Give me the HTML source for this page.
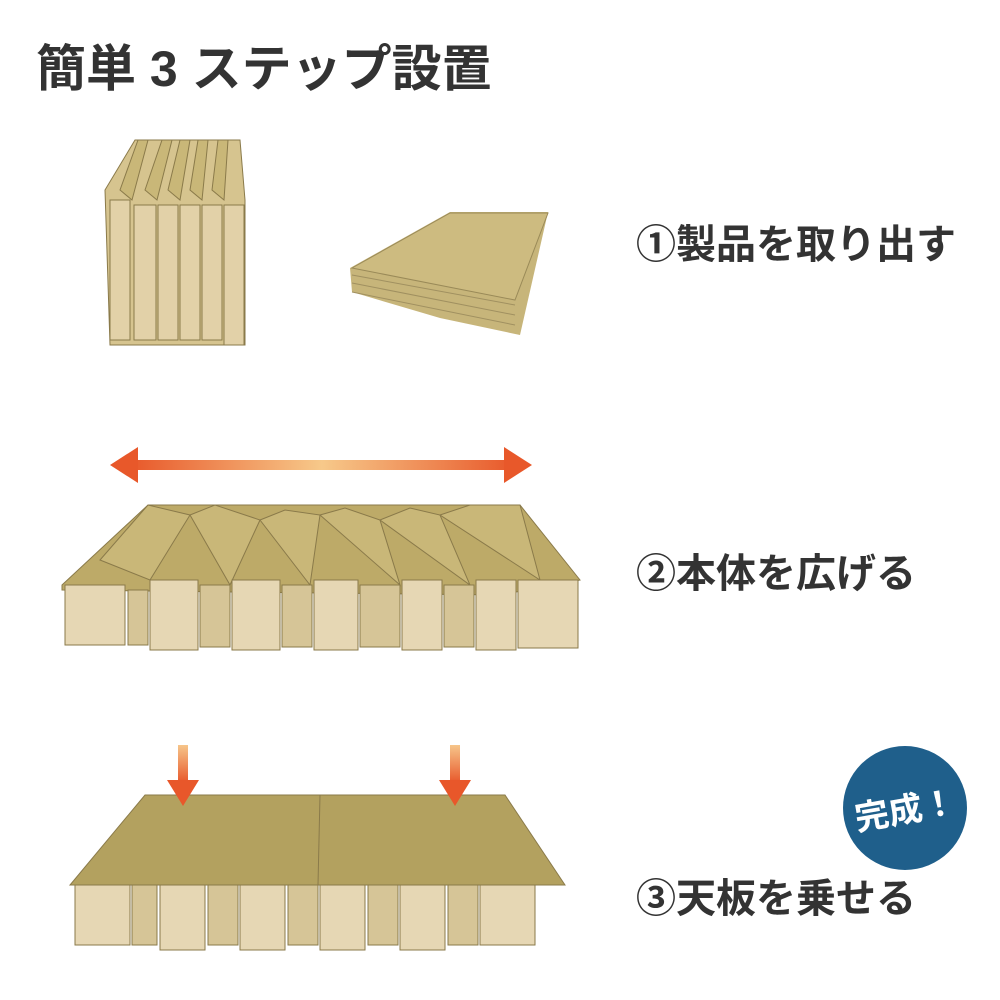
<!DOCTYPE html>
<html><head><meta charset="utf-8"><style>
html,body{margin:0;padding:0;background:#fff;width:1000px;height:1000px;overflow:hidden}
svg{display:block}
text{font-family:"Liberation Sans","Noto Sans CJK JP",sans-serif;font-weight:bold}
</style></head><body>
<svg width="1000" height="1000" viewBox="0 0 1000 1000">
<defs>
<linearGradient id="ag" x1="0" x2="1"><stop offset="0" stop-color="#e8582a"/><stop offset="0.5" stop-color="#f7c98a"/><stop offset="1" stop-color="#e8582a"/></linearGradient>
<linearGradient id="dg" x1="0" y1="0" x2="0" y2="1"><stop offset="0" stop-color="#f6c58a"/><stop offset="1" stop-color="#e8572a"/></linearGradient>
</defs>
<text x="36" y="86" font-size="50" fill="#333">簡単 3 ステップ設置</text>

<!-- step1 vertical pleats -->
<g stroke="#8a7a4a" stroke-width="1">
<polygon points="105,190 135,140 240,140 245,200 245,345 110,345" fill="#d6c48f"/>
<g fill="#c9b778">
<polygon points="120,190 138,140 148,140 132,200"/>
<polygon points="145,190 162,140 172,140 157,200"/>
<polygon points="168,190 180,140 190,140 180,200"/>
<polygon points="190,190 198,140 208,140 202,200"/>
<polygon points="212,190 218,140 228,140 224,200"/>
</g>
<g fill="#e2d1a8">
<rect x="110" y="200" width="20" height="140"/>
<rect x="134" y="205" width="22" height="135"/>
<rect x="158" y="205" width="20" height="135"/>
<rect x="180" y="205" width="20" height="135"/>
<rect x="202" y="205" width="20" height="135"/>
<rect x="224" y="205" width="20" height="140"/>
</g>
</g>
<!-- flat folded -->
<polygon points="350,268 450,212 548,212 520,335 440,318 352,292" fill="#c7b57a"/>
<polygon points="352,268 450,213 548,213 515,300" fill="#cdbb80" stroke="#9a8a58"/>
<path d="M352,275 L515,305 M352,283 L515,315 M352,292 L515,325" stroke="#a09060" fill="none"/>
<text x="636" y="258" font-size="40" fill="#333">①製品を取り出す</text>

<!-- step2 arrow -->
<rect x="130" y="460" width="384" height="10" fill="url(#ag)"/>
<polygon points="110,465 138,447 138,483" fill="#e8582a"/>
<polygon points="532,465 504,447 504,483" fill="#e8582a"/>
<!-- zigzag -->
<g stroke="#8a7a4a" stroke-width="1">
<polygon points="62,585 148,505 520,505 580,580 500,595 62,590" fill="#bdaa68"/>
<g fill="#c9b778">
<polygon points="100,560 148,505 190,515 150,580"/>
<polygon points="190,515 215,505 260,520 230,585"/>
<polygon points="260,520 285,510 320,515 310,585"/>
<polygon points="320,515 345,508 380,520 400,585"/>
<polygon points="380,520 410,508 440,515 470,585"/>
<polygon points="440,515 470,505 520,505 540,580"/>
</g>
<g fill="#e6d7b4">
<rect x="65" y="585" width="60" height="60"/>
<rect x="128" y="590" width="20" height="55" fill="#d6c597"/>
<rect x="150" y="580" width="48" height="70"/>
<rect x="200" y="585" width="30" height="62" fill="#d6c597"/>
<rect x="232" y="580" width="48" height="70"/>
<rect x="282" y="585" width="30" height="62" fill="#d6c597"/>
<rect x="314" y="580" width="44" height="70"/>
<rect x="360" y="585" width="40" height="62" fill="#d6c597"/>
<rect x="402" y="580" width="40" height="70"/>
<rect x="444" y="585" width="30" height="62" fill="#d6c597"/>
<rect x="476" y="580" width="40" height="70"/>
<rect x="518" y="580" width="60" height="68"/>
</g>
</g>
<text x="636" y="587" font-size="40" fill="#333">②本体を広げる</text>

<!-- step3 -->
<g stroke="#8a7a4a" stroke-width="1">
<g fill="#e6d7b4">
<rect x="75" y="885" width="55" height="60"/>
<rect x="132" y="885" width="25" height="60" fill="#d6c597"/>
<rect x="160" y="885" width="45" height="65"/>
<rect x="208" y="885" width="30" height="60" fill="#d6c597"/>
<rect x="240" y="885" width="45" height="65"/>
<rect x="288" y="885" width="30" height="60" fill="#d6c597"/>
<rect x="320" y="885" width="45" height="65"/>
<rect x="368" y="885" width="30" height="60" fill="#d6c597"/>
<rect x="400" y="885" width="45" height="65"/>
<rect x="448" y="885" width="30" height="60" fill="#d6c597"/>
<rect x="480" y="885" width="55" height="60"/>
</g>
<polygon points="145,795 505,795 565,885 70,885" fill="#b3a15f"/>
<line x1="320" y1="795" x2="318" y2="885"/>
</g>
<rect x="178" y="745" width="10" height="38" fill="url(#dg)"/>
<polygon points="167,780 199,780 183,806" fill="#e8572a"/>
<rect x="450" y="745" width="10" height="38" fill="url(#dg)"/>
<polygon points="439,780 471,780 455,806" fill="#e8572a"/>
<circle cx="905" cy="808" r="62" fill="#1f5f8b"/>
<text x="905" y="822" font-size="34" fill="#fff" text-anchor="middle" transform="rotate(-10 905 808)">完成！</text>
<text x="636" y="912" font-size="40" fill="#333">③天板を乗せる</text>
</svg>
</body></html>
